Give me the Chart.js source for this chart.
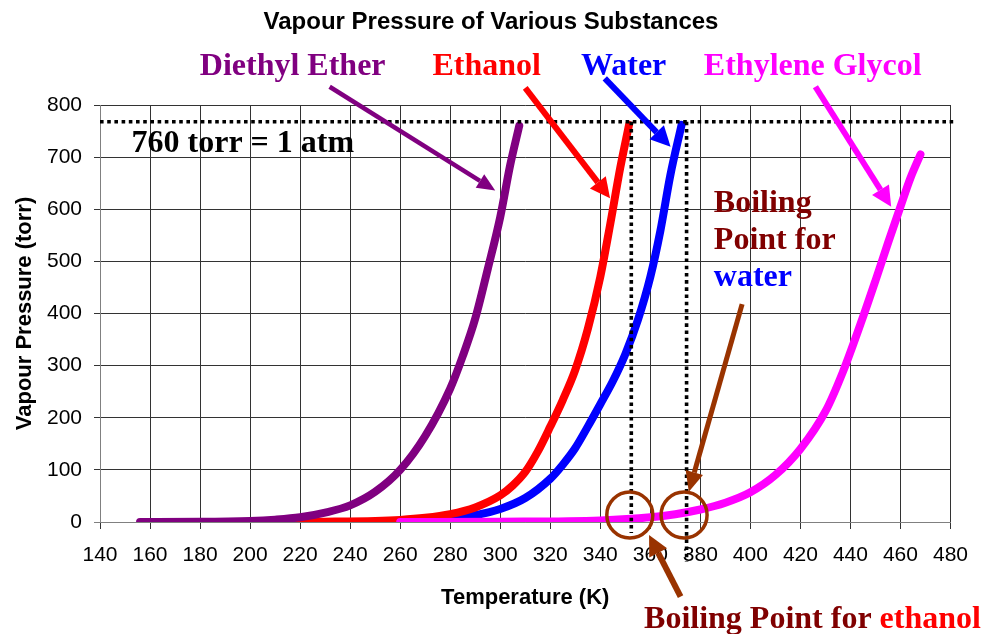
<!DOCTYPE html>
<html>
<head>
<meta charset="utf-8">
<script src="https://cdn.jsdelivr.net/npm/chart.js@4"></script>
<style>
  body { margin: 0; background: #fff; }
  #wrap { width: 982px; height: 634px; }
</style>
</head>
<body>
<div id="wrap"><canvas id="grafico" width="982" height="634"></canvas></div>
<script>
// temperatures (K) and vapour pressures (torr)
const etherT = [156, 180, 200, 210, 220, 230, 240, 250, 260, 270, 280, 285, 290, 295, 300, 304, 307.6];
const etherP = [0, 0.3, 2, 4.5, 9, 18, 32, 58, 100, 165, 256, 318, 390, 485, 585, 685, 760];

const ethanolT = [212, 230, 250, 260, 270, 280, 290, 300, 305, 310, 315, 320, 325, 330, 335, 340, 344, 348, 351.5];
const ethanolP = [0, 0.6, 2, 4, 8, 15, 28, 51, 70, 96, 135, 183, 234, 292, 370, 470, 572, 680, 762];

const waterT = [262, 270, 280, 290, 300, 310, 320, 325, 330, 335, 340, 345, 350, 355, 360, 364, 368, 372.5];
const waterP = [0, 2.5, 6, 13, 25, 46, 83, 110, 142, 183, 226, 270, 322, 387, 470, 558, 665, 762];

const glycolT = [260, 300, 340, 360, 370, 380, 390, 400, 410, 420, 430, 437, 445, 450, 455, 460, 464, 468];
const glycolP = [0, 0.5, 3, 9, 15, 24, 37, 57, 90, 140, 212, 288, 393, 463, 535, 605, 660, 705];

const xTicks = [140, 480, 20];   // min, max, step
const yTicks = [0, 800, 100];

const atm = 768;                  // dotted "1 atm" line as drawn
const boilEthanol = 352.4;
const boilWater = 374.5;

const pts = (T, P) => T.map((t, i) => ({ x: t, y: P[i] }));

function linha(label, T, P, cor) {
  return {
    label: label,
    data: pts(T, P),
    borderColor: cor,
    borderWidth: 8,
    borderCapStyle: 'round',
    borderJoinStyle: 'round',
    pointRadius: 0,
    fill: false,
    cubicInterpolationMode: 'monotone'
  };
}

// annotation bits, positioned in data units (K, torr)
const setas = [
  { de: [231.8, 835], para: [298.0, 636], cor: '#800080', w: 4.5, head: 18, half: 8 },
  { de: [310.0, 833], para: [343.9, 621], cor: '#FF0000', w: 6, head: 20, half: 10 },
  { de: [341.8, 851], para: [368.1, 720], cor: '#0000FF', w: 6, head: 20, half: 10 },
  { de: [426.0, 835], para: [456.3, 605], cor: '#FF00FF', w: 6, head: 20, half: 10 },
  { de: [396.7, 418], para: [375.4, 58], cor: '#993300', w: 5, head: 20, half: 9 },
  { de: [372.1, -143], para: [359.5, -25], cor: '#993300', w: 6, head: 20, half: 10 }
];

const textos = [
  { t: 'Diethyl Ether', at: [179.9, 857.6], cor: '#800080' },
  { t: 'Ethanol', at: [272.9, 857.6], cor: '#FF0000' },
  { t: 'Water', at: [332.3, 857.6], cor: '#0000FF' },
  { t: 'Ethylene Glycol', at: [381.4, 857.6], cor: '#FF00FF' },
  { t: '760 torr = 1 atm', at: [152.6, 710.4], cor: '#000000' },
  { t: 'Boiling', at: [385.4, 595.3], cor: '#800000' },
  { t: 'Point for', at: [385.4, 523.7], cor: '#800000' },
  { t: 'water', at: [385.4, 452.8], cor: '#0000FF' }
];

const titulo = 'Vapour Pressure of Various Substances';
const fonte = '"Liberation Sans", Arial, sans-serif';

function seta(ctx, x1, y1, x2, y2, s) {
  const a = Math.atan2(y2 - y1, x2 - x1);
  const bx = x2 - s.head * Math.cos(a), by = y2 - s.head * Math.sin(a);
  ctx.strokeStyle = s.cor;
  ctx.fillStyle = s.cor;
  ctx.lineWidth = s.w;
  ctx.lineCap = 'butt';
  ctx.beginPath();
  ctx.moveTo(x1, y1);
  ctx.lineTo(bx, by);
  ctx.stroke();
  ctx.beginPath();
  ctx.moveTo(x2, y2);
  ctx.lineTo(bx + s.half * Math.sin(a), by - s.half * Math.cos(a));
  ctx.lineTo(bx - s.half * Math.sin(a), by + s.half * Math.cos(a));
  ctx.closePath();
  ctx.fill();
}

const anotacoes = {
  id: 'anotacoes',
  afterDatasetsDraw(chart) {
    const { ctx, scales: { x, y } } = chart;
    const px = v => x.getPixelForValue(v);
    const py = v => y.getPixelForValue(v);
    ctx.save();

    // title, centred on the whole picture
    ctx.fillStyle = '#000';
    ctx.font = 'bold 24px ' + fonte;
    ctx.textAlign = 'center';
    ctx.textBaseline = 'middle';
    ctx.fillText(titulo, chart.width / 2, 22);

    // dotted lines
    ctx.strokeStyle = '#000';
    ctx.lineWidth = 3.6;
    ctx.lineCap = 'butt';
    ctx.setLineDash([3.6, 3.6]);
    ctx.beginPath();
    ctx.moveTo(px(140), py(atm));
    ctx.lineTo(px(482), py(atm));
    ctx.moveTo(px(boilEthanol), py(atm));
    ctx.lineTo(px(boilEthanol), py(-21));
    ctx.moveTo(px(boilWater), py(atm));
    ctx.lineTo(px(boilWater), py(-76));
    ctx.stroke();
    ctx.setLineDash([]);

    // circles round the boiling points
    ctx.strokeStyle = '#993300';
    ctx.lineWidth = 3.5;
    [351.8, 373.5].forEach(t => {
      ctx.beginPath();
      ctx.arc(px(t), py(13.4), 23, 0, Math.PI * 2);
      ctx.stroke();
    });

    setas.forEach(s => seta(ctx, px(s.de[0]), py(s.de[1]), px(s.para[0]), py(s.para[1]), s));

    ctx.font = 'bold 32px "Liberation Serif", "Times New Roman", serif';
    ctx.textAlign = 'left';
    ctx.textBaseline = 'alphabetic';
    textos.forEach(o => {
      ctx.fillStyle = o.cor;
      ctx.fillText(o.t, px(o.at[0]), py(o.at[1]));
    });

    const bx = px(357.5), by = py(-203.9);
    const parte = 'Boiling Point for ';
    ctx.fillStyle = '#800000';
    ctx.fillText(parte, bx, by);
    ctx.fillStyle = '#FF0000';
    ctx.fillText('ethanol', bx + ctx.measureText(parte).width, by);

    ctx.restore();
  }
};

const ctx = document.getElementById('grafico');

new Chart(ctx, {
  type: 'line',
  data: {
    datasets: [
      linha('Diethyl Ether', etherT, etherP, '#800080'),
      linha('Ethylene Glycol', glycolT, glycolP, '#FF00FF'),
      linha('Ethanol', ethanolT, ethanolP, '#FF0000'),
      linha('Water', waterT, waterP, '#0000FF')
    ]
  },
  options: {
    responsive: false,
    animation: false,
    devicePixelRatio: 1,
    layout: { padding: { top: 105, right: 30, bottom: 0, left: 0 } },
    plugins: {
      legend: { display: false },
      tooltip: { enabled: false },
      title: { display: false }
    },
    scales: {
      x: {
        type: 'linear',
        min: xTicks[0],
        max: xTicks[1],
        afterFit: s => { s.height = 112; },
        ticks: { stepSize: xTicks[2], color: '#000', padding: 14, font: { family: fonte, size: 21 } },
        grid: { color: '#333', tickLength: 7, lineWidth: 1 },
        border: { color: '#808080', width: 1 },
        title: {
          display: true,
          text: 'Temperature (K)',
          color: '#000',
          font: { family: fonte, size: 22, weight: 'bold', lineHeight: 1.2 },
          padding: { top: 0, bottom: 23 }
        }
      },
      y: {
        min: yTicks[0],
        max: yTicks[1],
        afterFit: s => { s.width = 100; },
        ticks: { stepSize: yTicks[2], color: '#000', padding: 12, font: { family: fonte, size: 21 } },
        grid: {
          color: c => (c.tick && c.tick.value === 0 ? '#808080' : '#333'),
          tickLength: 6,
          lineWidth: 1
        },
        border: { color: '#808080', width: 1 },
        title: {
          display: true,
          text: 'Vapour Pressure (torr)',
          color: '#000',
          font: { family: fonte, size: 22, weight: 'bold', lineHeight: 1.2 },
          padding: { top: 12, bottom: 0 }
        }
      }
    }
  },
  plugins: [anotacoes]
});
</script>
</body>
</html>
